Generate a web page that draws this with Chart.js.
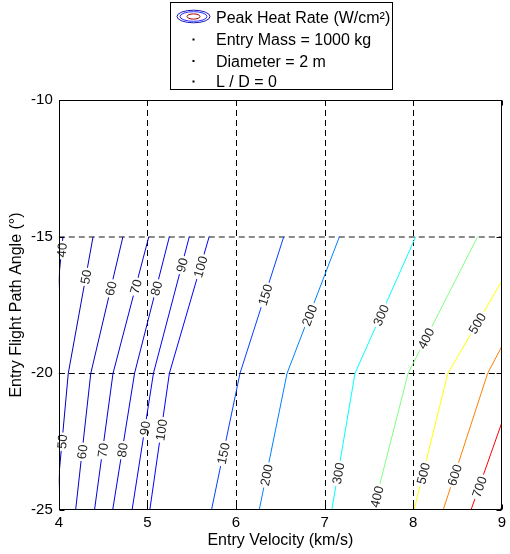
<!DOCTYPE html>
<html>
<head>
<meta charset="utf-8">
<script src="https://cdn.jsdelivr.net/npm/chart.js@4/dist/chart.umd.min.js"></script>
<style>
  html, body { margin: 0; padding: 0; background: #fff; }
  #wrap { width: 510px; height: 554px; }
</style>
</head>
<body>
<div id="wrap"><canvas id="c" width="510" height="554"></canvas></div>
<script>
// Contour levels of peak heat rate (W/cm²)
const levels = [40, 50, 60, 70, 80, 90, 100, 150, 200, 300, 400, 500, 600, 700, 800];
// Flight path angle rows of the contour grid (deg)
const gammaRows = [-25, -20, -15];
// Entry velocity (km/s) at which each level crosses each row
const velAtGammaM25 = [3.75, 3.966, 4.190, 4.403, 4.608, 4.827, 5.027, 5.723, 6.262, 7.081, 7.549, 8.009, 8.338, 8.652, 8.985];
const velAtGammaM20 = [3.89, 4.107, 4.361, 4.612, 4.855, 5.068, 5.248, 6.045, 6.576, 7.343, 7.942, 8.391, 8.840, 9.196, 9.52];
const velAtGammaM15 = [4.047, 4.387, 4.724, 5.016, 5.248, 5.473, 5.697, 6.539, 7.167, 8.028, 8.727, 9.293, 9.652, 10.0, 10.3];
// Flight path angle where each inline level label sits (null = no label)
const labelGammaUpper = [-15.49, -16.47, -16.89, -16.83, -16.89, -16.04, -16.10, -17.13, -17.87, -17.87, -18.72, -18.17, null, null, null];
const labelGammaLower = [null, -22.50, -22.87, -22.81, -22.81, -22.01, -22.07, -22.93, -23.72, -23.66, -24.51, -23.66, -23.72, -24.15, null];
// Axis ticks and grid
const xTicks = [4, 5, 6, 7, 8, 9];
const yTicks = [-25, -20, -15, -10];
const xGrid = [5, 6, 7, 8];
const yGrid = [-20, -15];
// Legend entries
const legendTitle = 'Peak Heat Rate (W/cm²)';
const legendNotes = ['Entry Mass = 1000 kg', 'Diameter = 2 m', 'L / D = 0'];

const velRows = [velAtGammaM25, velAtGammaM20, velAtGammaM15];
const FONT = '"Liberation Sans", Arial, sans-serif';

// jet colormap, t in [0, 1]
function jet(t) {
  const c = v => Math.max(0, Math.min(1, v));
  const r = c(Math.min(4 * t - 1.5, -4 * t + 4.5));
  const g = c(Math.min(4 * t - 0.5, -4 * t + 3.5));
  const b = c(Math.min(4 * t + 0.5, -4 * t + 2.5));
  return `rgb(${Math.round(r * 255)},${Math.round(g * 255)},${Math.round(b * 255)})`;
}
const CMAX = 800;

const frame = {
  id: 'frame',
  beforeDatasetsDraw(chart) {
    const { ctx, chartArea: a, scales: { x, y } } = chart;
    ctx.save();
    ctx.setLineDash([6, 4]);
    xGrid.forEach(v => {
      const px = Math.round(x.getPixelForValue(v)) + 0.5;
      ctx.lineWidth = 1;
      ctx.strokeStyle = '#000';
      ctx.beginPath(); ctx.moveTo(px, a.top); ctx.lineTo(px, a.bottom); ctx.stroke();
    });
    yGrid.forEach(v => {
      if (v === -15) {
        const py = Math.round(y.getPixelForValue(v));
        ctx.lineWidth = 2;
        ctx.strokeStyle = '#8a8a8a';
        ctx.beginPath(); ctx.moveTo(a.left, py); ctx.lineTo(a.right, py); ctx.stroke();
      } else {
        const py = Math.round(y.getPixelForValue(v)) + 0.5;
        ctx.lineWidth = 1;
        ctx.strokeStyle = '#000';
        ctx.beginPath(); ctx.moveTo(a.left, py); ctx.lineTo(a.right, py); ctx.stroke();
      }
    });
    ctx.restore();
  },
  afterDatasetsDraw(chart) {
    const { ctx, chartArea: a, scales: { x, y } } = chart;
    // inline contour labels
    ctx.save();
    ctx.font = `13px ${FONT}`;
    ctx.textAlign = 'center';
    ctx.textBaseline = 'middle';
    levels.forEach((lv, i) => {
      [[labelGammaLower[i], 0], [labelGammaUpper[i], 1]].forEach(([g, seg]) => {
        if (g == null) return;
        const g0 = gammaRows[seg], g1 = gammaRows[seg + 1];
        const v0 = velRows[seg][i], v1 = velRows[seg + 1][i];
        const t = (g - g0) / (g1 - g0);
        const v = v0 + t * (v1 - v0);
        const px = x.getPixelForValue(v), py = y.getPixelForValue(g);
        const ang = Math.atan2(y.getPixelForValue(g1) - y.getPixelForValue(g0),
                               x.getPixelForValue(v1) - x.getPixelForValue(v0));
        const txt = String(lv);
        const w = ctx.measureText(txt).width;
        ctx.save();
        ctx.translate(px, py);
        ctx.rotate(ang);
        ctx.fillStyle = '#fff';
        ctx.fillRect(-w / 2 - 2, -2.5, w + 4, 5);
        ctx.fillStyle = '#262626';
        ctx.fillText(txt, 0, 1);
        ctx.restore();
      });
    });
    ctx.restore();

    // axes box and inward ticks
    ctx.save();
    ctx.strokeStyle = '#000';
    ctx.lineWidth = 1;
    const L = Math.round(a.left) + 0.5, R = Math.round(a.right) - 0.5;
    const T = Math.round(a.top) + 0.5, B = Math.round(a.bottom) - 0.5;
    ctx.strokeRect(L, T, R - L, B - T);
    ctx.beginPath();
    xTicks.forEach(v => {
      const px = Math.round(x.getPixelForValue(v)) + 0.5;
      ctx.moveTo(px, B); ctx.lineTo(px, B - 5);
      ctx.moveTo(px, T); ctx.lineTo(px, T + 5);
    });
    yTicks.forEach(v => {
      const py = Math.round(y.getPixelForValue(v)) + 0.5;
      ctx.moveTo(L, py); ctx.lineTo(L + 5, py);
      ctx.moveTo(R, py); ctx.lineTo(R - 5, py);
    });
    ctx.stroke();
    ctx.restore();
  },
  afterDraw(chart) {
    const { ctx } = chart;
    ctx.save();
    // legend box
    ctx.fillStyle = '#fff';
    ctx.fillRect(170.5, 2.5, 222, 87);
    ctx.strokeStyle = '#000';
    ctx.lineWidth = 1;
    ctx.strokeRect(170.5, 2.5, 222, 87);
    // contour icon
    const cx = 193.5, cy = 16.5;
    [[16.5, 6.3, '#1a1ab4'], [13.5, 4.8, '#2a2aff'], [6.5, 2.6, '#b40000']].forEach(([rx, ry, col]) => {
      ctx.strokeStyle = col;
      ctx.beginPath();
      ctx.ellipse(cx, cy, rx, ry, 0, 0, Math.PI * 2);
      ctx.stroke();
    });
    ctx.fillStyle = '#000';
    ctx.font = `16px ${FONT}`;
    ctx.textAlign = 'left';
    ctx.textBaseline = 'alphabetic';
    ctx.fillText(legendTitle, 216, 22.5);
    const baselines = [45, 66.5, 87];
    legendNotes.forEach((s, k) => {
      ctx.fillRect(192.5, baselines[k] - 6.5, 2, 2);
      ctx.fillText(s, 216, baselines[k]);
    });
    ctx.restore();
  }
};

new Chart(document.getElementById('c'), {
  type: 'line',
  data: {
    datasets: levels.map((lv, i) => ({
      label: String(lv),
      data: gammaRows.map((g, r) => ({ x: velRows[r][i], y: g })),
      borderColor: jet(lv / CMAX),
      borderWidth: 1,
      pointRadius: 0,
      fill: false,
      tension: 0
    }))
  },
  options: {
    responsive: false,
    animation: false,
    events: [],
    layout: { padding: { top: 100, right: 6, bottom: 0, left: 0 } },
    plugins: { legend: { display: false }, tooltip: { enabled: false } },
    scales: {
      x: {
        type: 'linear', min: 4, max: 9,
        afterBuildTicks: s => { s.ticks = xTicks.map(v => ({ value: v })); },
        afterFit: s => { s.height = 44; },
        grid: { display: false, drawTicks: false },
        border: { display: false },
        ticks: { color: '#000', padding: 4, font: { family: FONT, size: 15 }, maxRotation: 0 },
        title: { display: true, text: 'Entry Velocity (km/s)', color: '#000',
                 font: { family: FONT, size: 16, lineHeight: 1.2 }, padding: { top: 0, bottom: 3.4 } }
      },
      y: {
        type: 'linear', min: -25, max: -10,
        afterBuildTicks: s => { s.ticks = yTicks.map(v => ({ value: v })); },
        afterFit: s => { s.width = 58.8; },
        grid: { display: false, drawTicks: false },
        border: { display: false },
        ticks: { color: '#000', padding: 6, font: { family: FONT, size: 15 } },
        title: { display: true, text: 'Entry Flight Path Angle (°)', color: '#000',
                 font: { family: FONT, size: 16, lineHeight: 1.2 }, padding: { top: 7.4, bottom: 0 } }
      }
    }
  },
  plugins: [frame]
});
</script>
</body>
</html>
